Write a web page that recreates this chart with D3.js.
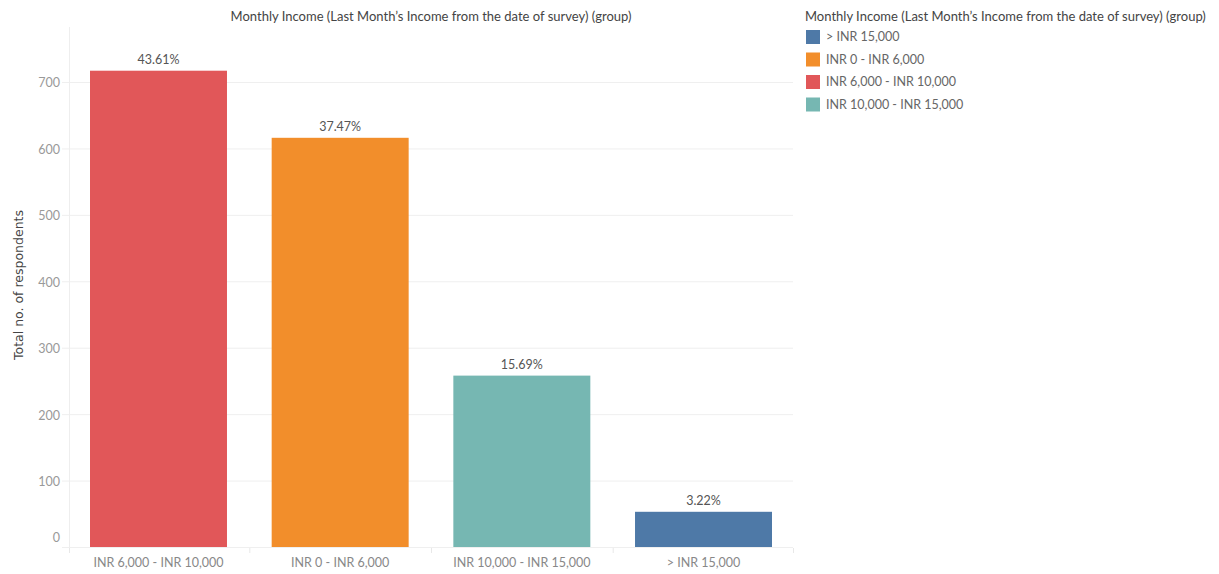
<!DOCTYPE html>
<html><head><meta charset="utf-8">
<script src="https://cdn.jsdelivr.net/npm/d3@7"></script>
<style>
body{margin:0;background:#fff;}
text{font-family:Lato,"Open Sans",sans-serif;}
</style></head>
<body><svg id="c" width="1219" height="574"></svg>
<script>
const categories = ["INR 6,000 - INR 10,000","INR 0 - INR 6,000","INR 10,000 - INR 15,000","> INR 15,000"];
const values = [717, 616, 258, 53];
const pctLabels = ["43.61%","37.47%","15.69%","3.22%"];
const yTicks = [0,100,200,300,400,500,600,700];
const legendOrder = ["> INR 15,000","INR 0 - INR 6,000","INR 6,000 - INR 10,000","INR 10,000 - INR 15,000"];
const colors = {"> INR 15,000":"#4E79A7","INR 0 - INR 6,000":"#F28E2B","INR 6,000 - INR 10,000":"#E15759","INR 10,000 - INR 15,000":"#76B7B2"};
const titleText = "Monthly Income (Last Month\u2019s Income from the date of survey) (group)";

(function(){
const svg = d3.select("#c");
const pl = 69, pr = 793, pt = 27, pb = 547;
const x = d3.scaleBand().domain(categories).range([pl, pr]).paddingInner(0.246).paddingOuter(0.1156);
const y = d3.scaleLinear().domain([0, 700]).range([pb, 82]);

svg.append("g").selectAll("line").data(yTicks).join("line")
  .attr("x1", pl-7).attr("x2", pr).attr("y1", d=>y(d)+0.5).attr("y2", d=>y(d)+0.5)
  .attr("stroke", "#efefef").attr("stroke-width", 1);
svg.append("line").attr("x1", pl+0.5).attr("x2", pl+0.5).attr("y1", pt).attr("y2", pb+6)
  .attr("stroke", "#eeeeee");
const bounds = [pl, ...categories.slice(1).map(c => x(c) - x.step()*x.paddingInner()/2), pr];
svg.append("g").selectAll("line").data(bounds).join("line")
  .attr("x1", d=>d+0.5).attr("x2", d=>d+0.5).attr("y1", pb+1).attr("y2", pb+6)
  .attr("stroke", "#e8e8e8");

svg.append("g").selectAll("text").data(yTicks).join("text")
  .attr("x", pl-9).attr("y", d => d===0 ? y(d)-9 : y(d)+1)
  .attr("dy", "0.35em").attr("text-anchor", "end")
  .attr("font-size", 12.5).attr("fill", "#999")
  .text(d => d);

svg.append("g").selectAll("rect").data(categories).join("rect")
  .attr("x", d => x(d)).attr("width", x.bandwidth())
  .attr("y", (d,i) => y(values[i])).attr("height", (d,i) => y(0) - y(values[i]))
  .attr("fill", d => colors[d]);

svg.append("g").selectAll("text").data(categories).join("text")
  .attr("x", d => x(d) + x.bandwidth()/2).attr("y", (d,i) => y(values[i]) - 7)
  .attr("text-anchor", "middle").attr("font-size", 12.5).attr("fill", "#555")
  .text((d,i) => pctLabels[i]);

svg.append("g").selectAll("text").data(categories).join("text")
  .attr("x", d => x(d) + x.bandwidth()/2).attr("y", 567)
  .attr("text-anchor", "middle").attr("font-size", 12.5).attr("fill", "#888")
  .text(d => d);

svg.append("text").attr("transform", "translate(23,285) rotate(-90)")
  .attr("text-anchor", "middle").attr("font-size", 12.5).attr("fill", "#444")
  .style("font-family", "'DejaVu Sans', sans-serif")
  .text("Total no. of respondents");

svg.append("text").attr("x", 431).attr("y", 21).attr("text-anchor", "middle")
  .attr("font-size", 13).attr("fill", "#444").text(titleText);

const lg = svg.append("g");
lg.append("text").attr("x", 805).attr("y", 21).attr("font-size", 13).attr("fill", "#444").text(titleText);
const items = lg.selectAll("g.it").data(legendOrder).join("g").attr("class","it")
  .attr("transform", (d,i) => `translate(806,${30 + i*22.5})`);
items.append("rect").attr("width", 14).attr("height", 14).attr("fill", d => colors[d]);
items.append("text").attr("x", 20).attr("y", 7).attr("dy", "0.35em").attr("font-size", 12.5).attr("fill", "#666").text(d => d);
})();
</script></body></html>
